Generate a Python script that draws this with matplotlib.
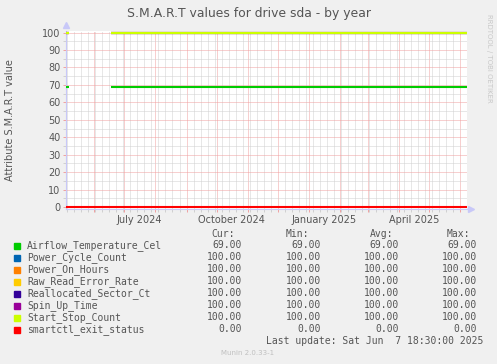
import matplotlib
matplotlib.use("Agg")
import matplotlib.pyplot as plt
import matplotlib.dates as mdates
import numpy as np

# data
series_names = ['Airflow_Temperature_Cel', 'Power_Cycle_Count', 'Power_On_Hours',
                'Raw_Read_Error_Rate', 'Reallocated_Sector_Ct', 'Spin_Up_Time',
                'Start_Stop_Count', 'smartctl_exit_status']
series_values = [69, 100, 100, 100, 100, 100, 100, 0]
cur_vals = [69.00, 100.00, 100.00, 100.00, 100.00, 100.00, 100.00, 0.00]
min_vals = [69.00, 100.00, 100.00, 100.00, 100.00, 100.00, 100.00, 0.00]
avg_vals = [69.00, 100.00, 100.00, 100.00, 100.00, 100.00, 100.00, 0.00]
max_vals = [69.00, 100.00, 100.00, 100.00, 100.00, 100.00, 100.00, 0.00]
# segments of data (start, end) per series
early_seg = ('2024-05-04T00:00', '2024-05-06T12:00')
main_seg = ('2024-06-17T18:00', '2025-06-07T18:30')
full_seg = ('2024-05-03T18:30', '2025-06-07T18:30')
series_segs = [[early_seg, main_seg]] * 7 + [[full_seg]]
x_start = np.datetime64('2024-05-03T18:30')
x_end = np.datetime64('2025-06-07T18:30')
label_dates = ['2024-07-16', '2024-10-16', '2025-01-16', '2025-04-16']
label_texts = ['July 2024', 'October 2024', 'January 2025', 'April 2025']

colors = ['#00CC00', '#0066B3', '#FF8000', '#FFCC00', '#330099', '#990099', '#CCFF00', '#FF0000']
txt = '#555555'
axis_c = '#C8C8F8'

fig = plt.figure(figsize=(4.97, 3.64), dpi=100, facecolor='#F0F0F0')
W, H = 497, 364
ax = fig.add_axes([66 / W, 1 - 208.5 / H, 401 / W, 177 / H])
ax.set_facecolor('white')

for name, v, segs, c in zip(series_names, series_values, series_segs, colors):
    for s0, s1 in segs:
        ax.plot([np.datetime64(s0), np.datetime64(s1)], [v, v], color=c, lw=1.5,
                solid_capstyle='butt', zorder=3)

ax.set_xlim(x_start, x_end)
ax.set_ylim(-0.8, 100.6)

# grid
ax.yaxis.set_major_locator(plt.FixedLocator(range(0, 101, 10)))
ax.yaxis.set_minor_locator(plt.FixedLocator(range(5, 100, 10)))
ax.xaxis.set_major_locator(mdates.MonthLocator())
ax.xaxis.set_minor_locator(mdates.WeekdayLocator(byweekday=mdates.SU))
ax.xaxis.set_major_formatter(plt.NullFormatter())
ax.grid(which='major', color='#F0A0A0', lw=0.72, linestyle=(0, (1, 1)), zorder=1)
ax.grid(which='minor', color='#D0D0D0', lw=0.72, linestyle=(0, (1, 1)), zorder=0)
ax.tick_params(axis='y', which='major', length=2, width=0.7, color='#F0A0A0',
               labelsize=7, labelcolor=txt, pad=2)
ax.tick_params(axis='y', which='minor', length=2, width=0.7, color='#D0D0D0')
ax.tick_params(axis='x', which='major', length=2, width=0.7, color='#F0A0A0', pad=2)
ax.tick_params(axis='x', which='minor', length=2, width=0.7, color='#D0D0D0')

for s in ['top', 'right']:
    ax.spines[s].set_visible(False)
for s in ['left', 'bottom']:
    ax.spines[s].set_color(axis_c)
    ax.spines[s].set_linewidth(0.8)
ax.plot([0], [1.035], marker='^', color=axis_c, ms=4, transform=ax.transAxes, clip_on=False)
ax.plot([1.01], [0], marker='>', color=axis_c, ms=4, transform=ax.transAxes, clip_on=False)

for d, t in zip(label_dates, label_texts):
    ax.text(np.datetime64(d), -0.035, t, transform=ax.get_xaxis_transform(),
            ha='center', va='top', fontsize=7, color=txt)

fig.text(249 / W, 1 - 14 / H, 'S.M.A.R.T values for drive sda - by year',
         ha='center', va='center', fontsize=8.9, color=txt)
fig.text(10 / W, 1 - 120 / H, 'Attribute S.M.A.R.T value', rotation=90,
         ha='center', va='center', fontsize=7, color=txt)
fig.text(489 / W, 1 - 58 / H, 'RRDTOOL / TOBI OETIKER', rotation=-90,
         ha='center', va='center', fontsize=5, color='#C8C8C8')

# legend
mono = 'DejaVu Sans Mono'
fs = 7
hy = 1 - 234 / H
for x, h in zip([235, 309, 393, 470], ['Cur:', 'Min:', 'Avg:', 'Max:']):
    fig.text(x / W, hy, h, ha='right', va='center', family=mono, fontsize=fs, color=txt)
for i, name in enumerate(series_names):
    y = 1 - (245.5 + 12 * i) / H
    fig.patches.append(plt.Rectangle((14 / W, y - 3 / H), 6 / W, 6 / H, color=colors[i],
                                     transform=fig.transFigure, figure=fig))
    fig.text(27 / W, y, name, ha='left', va='center', family=mono, fontsize=fs, color=txt)
    for x, vals in zip([242, 321, 399, 477], [cur_vals, min_vals, avg_vals, max_vals]):
        fig.text(x / W, y, f'{vals[i]:.2f}', ha='right', va='center', family=mono,
                 fontsize=fs, color=txt)
fig.text(483 / W, 1 - 341.5 / H, 'Last update: Sat Jun  7 18:30:00 2025', ha='right',
         va='center', family=mono, fontsize=fs, color=txt)
fig.text(248 / W, 1 - 353 / H, 'Munin 2.0.33-1', ha='center', va='center',
         fontsize=5, color='#C0C0C0')

fig.savefig('out.png', dpi=100, facecolor=fig.get_facecolor())
